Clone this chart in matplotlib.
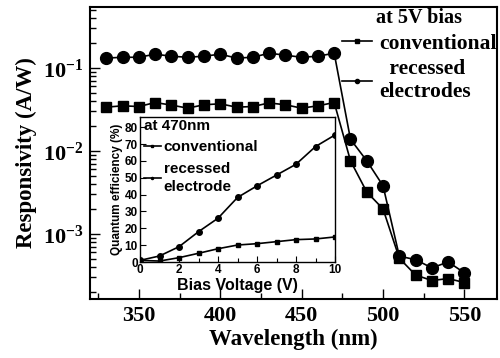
import numpy as np
import matplotlib
matplotlib.use("Agg")
import matplotlib.pyplot as plt
from matplotlib.lines import Line2D
from matplotlib.ticker import FuncFormatter, LogLocator, MultipleLocator, NullFormatter

plt.rcParams["mathtext.fontset"] = "custom"
plt.rcParams["mathtext.rm"] = "Liberation Serif:bold"
plt.rcParams["mathtext.bf"] = "Liberation Serif:bold"
plt.rcParams["mathtext.it"] = "Liberation Serif:bold"

# main panel data (responsivity at 5V bias)
wavelength = [330, 340, 350, 360, 370, 380, 390, 400, 410, 420, 430, 440, 450, 460, 470,
              480, 490, 500, 510, 520, 530, 540, 550]
resp_recessed = [0.131, 0.134, 0.134, 0.146, 0.138, 0.134, 0.138, 0.146, 0.131, 0.134,
                 0.150, 0.142, 0.134, 0.138, 0.150,
                 0.0138, 0.0076, 0.0038, 5.4e-4, 4.9e-4, 3.9e-4, 4.6e-4, 3.4e-4]
resp_conventional = [0.0336, 0.0349, 0.0342, 0.0382, 0.0356, 0.0327, 0.0359, 0.0369, 0.0336, 0.0342,
                     0.0378, 0.0359, 0.0327, 0.0349, 0.0382,
                     0.0076, 0.0032, 0.0020, 5.1e-4, 3.2e-4, 2.75e-4, 2.9e-4, 2.6e-4]

# inset data (quantum efficiency at 470nm)
bias = [0, 1, 2, 3, 4, 5, 6, 7, 8, 9, 10]
qe_recessed = [1.0, 3.6, 9.1, 18.0, 26.0, 38.3, 45.2, 51.6, 58.0, 68.5, 75.4]
qe_conventional = [1.0, 0.6, 2.6, 5.2, 7.9, 10.1, 10.9, 12.1, 13.3, 13.7, 14.9]

serif = "Liberation Serif"
sans = "Liberation Sans"

fig = plt.figure(figsize=(5, 3.58), dpi=100)
ax = fig.add_axes([0.18, 0.165, 0.814, 0.816])

ax.plot(wavelength, resp_conventional, "-s", color="black", lw=1.2, ms=7.5)
ax.plot(wavelength, resp_recessed, "-o", color="black", lw=1.2, ms=8.5)

ax.set_yscale("log")
ax.set_xlim(320, 570)
ax.set_ylim(1.65e-4, 0.543)
ax.xaxis.set_major_locator(MultipleLocator(50))
ax.xaxis.set_minor_locator(MultipleLocator(25))
ax.yaxis.set_major_locator(LogLocator(base=10, numticks=10))
ax.yaxis.set_minor_locator(LogLocator(base=10, subs=np.arange(2, 10), numticks=10))
ax.yaxis.set_minor_formatter(NullFormatter())
ax.yaxis.set_major_formatter(FuncFormatter(lambda v, p: r"$\mathrm{10^{%d}}$" % round(np.log10(v))))

ax.tick_params(which="both", direction="in", top=False, right=False, width=1)
ax.tick_params(which="major", length=7, labelsize=16, pad=5)
ax.tick_params(which="minor", length=4)
for lab in ax.get_xticklabels():
    lab.set_fontfamily(serif)
    lab.set_fontweight("bold")
for sp in ax.spines.values():
    sp.set_linewidth(1.5)

ax.set_xlabel("Wavelength (nm)", fontsize=16.5, fontweight="bold", family=serif, labelpad=2)
ax.set_ylabel("Responsivity (A/W)", fontsize=16.5, fontweight="bold", family=serif, labelpad=4)

handles = [Line2D([], [], color="black", lw=1.2, marker="s", ms=3),
           Line2D([], [], color="black", lw=1.2, marker="o", ms=3)]
leg = ax.legend(handles, ["conventional", " recessed\nelectrodes"], title="at 5V bias",
                loc="upper left", bbox_to_anchor=(0.62, 0.995), frameon=False,
                prop={"family": serif, "weight": "bold", "size": 15.5},
                title_fontproperties={"family": serif, "weight": "bold", "size": 14.5},
                borderpad=0, borderaxespad=0, handlelength=1.4, handletextpad=0.3,
                labelspacing=0.25)
for t in leg.get_texts():
    t.set_multialignment("center")
    t.set_linespacing(1.2)

# inset
axin = fig.add_axes([0.28, 0.268, 0.39, 0.405])
axin.plot(bias, qe_conventional, "-s", color="black", lw=1.2, ms=3.5)
axin.plot(bias, qe_recessed, "-o", color="black", lw=1.2, ms=4)
axin.set_xlim(0, 10)
axin.set_ylim(0, 86)
axin.xaxis.set_major_locator(MultipleLocator(2))
axin.xaxis.set_minor_locator(MultipleLocator(1))
axin.yaxis.set_major_locator(MultipleLocator(10))
axin.tick_params(which="both", direction="in", top=False, right=False, width=0.8)
axin.tick_params(which="major", length=4, labelsize=8.5, pad=1.5)
axin.tick_params(which="minor", length=3)
for lab in axin.get_xticklabels() + axin.get_yticklabels():
    lab.set_fontfamily(sans)
    lab.set_fontweight("bold")
for sp in axin.spines.values():
    sp.set_linewidth(1.0)
axin.set_xlabel("Bias Voltage (V)", fontsize=11.5, fontweight="bold", family=sans, labelpad=1.5)
axin.set_ylabel("Quantum efficiency (%)", fontsize=8.5, fontweight="bold", family=sans, labelpad=1)

in_handles = [Line2D([], [], color="black", lw=1.2, marker="s", ms=1.5),
              Line2D([], [], color="black", lw=1.2, marker="o", ms=1.5)]
leg2 = axin.legend(in_handles, ["conventional", "recessed\nelectrode"], title="at 470nm",
                   loc="upper left", bbox_to_anchor=(0.02, 0.99), frameon=False,
                   prop={"family": sans, "weight": "bold", "size": 11},
                   title_fontproperties={"family": sans, "weight": "bold", "size": 11},
                   alignment="left", borderpad=0, borderaxespad=0, handlelength=1.1,
                   handletextpad=0.2, labelspacing=0.5)
for t in leg2.get_texts():
    t.set_linespacing(1.35)

fig.savefig("out.png", dpi=100)
